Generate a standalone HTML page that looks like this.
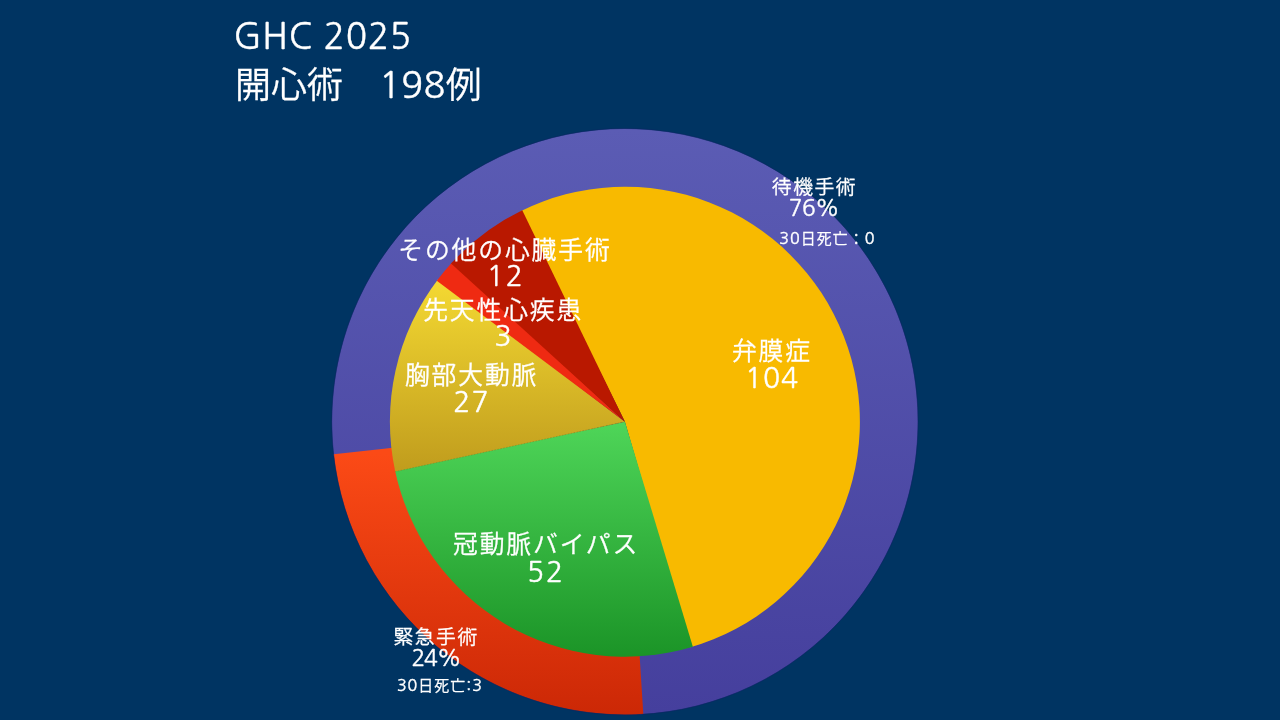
<!DOCTYPE html>
<html lang="ja"><head><meta charset="utf-8"><title>GHC 2025 開心術</title>
<style>
html,body{margin:0;padding:0;background:#003462;}
body{width:1280px;height:720px;overflow:hidden;position:relative;}
svg{position:absolute;left:0;top:0;will-change:transform;}
svg text{font-family:"Liberation Sans","Noto Sans CJK JP",sans-serif;fill:#fff;white-space:pre;}
.c{font-family:"Noto Sans CJK JP DemiLight","Noto Sans CJK JP",sans-serif;stroke:#fff;stroke-width:0.3px;}
.l{font-family:"NanumGothic","Liberation Sans",sans-serif;stroke:#fff;stroke-width:0.4px;}
</style></head>
<body>
<svg width="1280" height="720" viewBox="0 0 1280 720">
<defs>
<linearGradient id="gPur" gradientUnits="userSpaceOnUse" x1="0" y1="129" x2="0" y2="714">
 <stop offset="0" stop-color="#5b5cb4"/><stop offset="1" stop-color="#453f9d"/></linearGradient>
<linearGradient id="gRed" gradientUnits="userSpaceOnUse" x1="0" y1="454" x2="0" y2="714">
 <stop offset="0" stop-color="#fb4a16"/><stop offset="1" stop-color="#cc2806"/></linearGradient>
<linearGradient id="gGrn" gradientUnits="userSpaceOnUse" x1="0" y1="420" x2="0" y2="657">
 <stop offset="0" stop-color="#4fd659"/><stop offset="1" stop-color="#1b9427"/></linearGradient>
<linearGradient id="gGold" gradientUnits="userSpaceOnUse" x1="0" y1="280" x2="0" y2="472">
 <stop offset="0" stop-color="#f4d932"/><stop offset="1" stop-color="#c09c1d"/></linearGradient>
</defs>
<path d="M334.08,457.41 A293.0,293.0 0 1 1 640.23,714.30 L637.15,655.38 A234.0,234.0 0 1 0 392.64,450.22 Z" fill="url(#gPur)"/>
<path d="M643.30,714.12 A293.0,293.0 0 0 1 333.73,454.36 L392.36,447.78 A234.0,234.0 0 0 0 639.59,655.24 Z" fill="url(#gRed)"/>
<path d="M624.90,421.70 L520.04,211.39 A235.0,235.0 0 1 1 690.50,647.36 Z" fill="#f8ba00"/>
<path d="M624.90,421.70 L692.86,646.66 A235.0,235.0 0 0 1 394.75,469.21 Z" fill="url(#gGrn)"/>
<path d="M624.90,421.70 L395.26,471.62 A235.0,235.0 0 0 1 438.28,278.88 Z" fill="url(#gGold)"/>
<path d="M624.90,421.70 L436.80,280.84 A235.0,235.0 0 0 1 452.70,261.79 Z" fill="#ef2a12"/>
<path d="M624.90,421.70 L451.04,263.60 A235.0,235.0 0 0 1 522.25,210.30 Z" fill="#b91800"/>
<circle cx="624.9" cy="421.7" r="293.2" fill="none" stroke="#0c2466" stroke-width="1" opacity="0.55"/>
<line x1="624.9" y1="421.7" x2="395.26" y2="471.62" stroke="#8a7a20" stroke-width="0.8" stroke-dasharray="1.5,1.5" opacity="0.6"/>
<text x="233.5" y="48.5" text-anchor="start"><tspan class="l" font-size="35.28" letter-spacing="0.70">GHC 2025</tspan></text>
<text x="234.9" y="97.8" text-anchor="start"><tspan class="c" font-size="36.00" letter-spacing="0.00">開心術　</tspan><tspan class="l" font-size="36.00" letter-spacing="0.50">198</tspan><tspan class="c" font-size="36.00" letter-spacing="0.00">例</tspan></text>
<text x="814.5" y="193.5" text-anchor="middle"><tspan class="c" font-size="19.84" letter-spacing="1.49">待機手術</tspan></text>
<text x="814.0" y="215.8" text-anchor="middle"><tspan class="l" font-size="22.61" letter-spacing="-0.50">76%</tspan></text>
<text x="827.4" y="243.7" text-anchor="middle"><tspan class="l" font-size="16.00" letter-spacing="1.00">30</tspan><tspan class="c" font-size="14.88" letter-spacing="1.12">日死亡：</tspan><tspan class="l" font-size="16.00" letter-spacing="1.00">0</tspan></text>
<text x="504.9" y="258.8" text-anchor="middle"><tspan class="c" font-size="24.80" letter-spacing="1.87">その他の心臓手術</tspan></text>
<text x="505.8" y="285.5" text-anchor="middle"><tspan class="l" font-size="28.27" letter-spacing="2.00">12</tspan></text>
<text x="503.2" y="319.1" text-anchor="middle"><tspan class="c" font-size="24.80" letter-spacing="1.87">先天性心疾患</tspan></text>
<text x="504.0" y="346.0" text-anchor="middle"><tspan class="l" font-size="28.27" letter-spacing="2.00">3</tspan></text>
<text x="471.6" y="384.2" text-anchor="middle"><tspan class="c" font-size="24.80" letter-spacing="1.87">胸部大動脈</tspan></text>
<text x="471.6" y="412.4" text-anchor="middle"><tspan class="l" font-size="28.27" letter-spacing="1.20">27</tspan></text>
<text x="771.9" y="360.0" text-anchor="middle"><tspan class="c" font-size="24.80" letter-spacing="1.87">弁膜症</tspan></text>
<text x="772.0" y="388.2" text-anchor="middle"><tspan class="l" font-size="28.27" letter-spacing="0.80">104</tspan></text>
<text x="546.1" y="552.8" text-anchor="middle"><tspan class="c" font-size="24.80" letter-spacing="1.87">冠動脈バイパス</tspan></text>
<text x="546.1" y="582.3" text-anchor="middle"><tspan class="l" font-size="28.27" letter-spacing="2.00">52</tspan></text>
<text x="436.1" y="644.2" text-anchor="middle"><tspan class="c" font-size="19.84" letter-spacing="1.49">緊急手術</tspan></text>
<text x="435.9" y="666.2" text-anchor="middle"><tspan class="l" font-size="22.82" letter-spacing="-1.30">24%</tspan></text>
<text x="439.9" y="691.1" text-anchor="middle"><tspan class="l" font-size="16.00" letter-spacing="1.00">30</tspan><tspan class="c" font-size="14.88" letter-spacing="1.12">日死亡</tspan><tspan class="l" font-size="16.00" letter-spacing="1.00">:3</tspan></text>
</svg>
</body></html>
